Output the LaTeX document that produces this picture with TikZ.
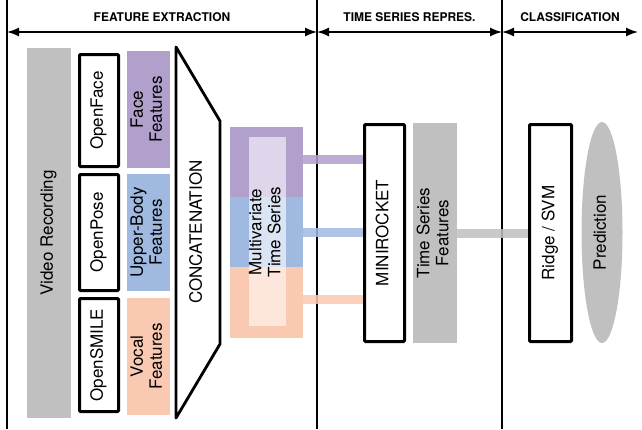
\documentclass[tikz,border=0pt]{standalone}
\usepackage{fontspec}
\setmainfont{TeX Gyre Heros}
\usetikzlibrary{arrows.meta, shapes.geometric, calc}
\definecolor{facecol}{HTML}{B19FCC}
\definecolor{bodycol}{HTML}{A0B9E1}
\definecolor{vocalcol}{HTML}{FAC9B2}
\definecolor{facelt}{HTML}{DFD6EB}
\definecolor{bodylt}{HTML}{DAE4F3}
\definecolor{vocallt}{HTML}{FDE6DC}
\definecolor{graycol}{HTML}{C0C0C0}
\newcommand{\bigfont}{\fontsize{17}{19}\selectfont}
\newcommand{\vtext}[1]{\rotatebox{90}{\begin{tabular}{@{}c@{}}#1\end{tabular}}}
\tikzset{
  stage/.style={line width=2.8pt},
  span/.style={line width=1.5pt, {Latex[length=12pt,width=9pt]}-{Latex[length=12pt,width=9pt]}},
  hdr/.style={above=10pt, inner sep=0pt, font=\bfseries\fontsize{12}{14}\selectfont},
  toolbox/.style={draw, line width=3pt, rounded corners=1pt, fill=white, inner sep=0pt, font=\bigfont},
  featbox/.style={fill=#1, inner sep=0pt, font=\bigfont},
  band/.style={line width=9pt, draw=#1, opacity=0.85}
}
\begin{document}
\begin{tikzpicture}[x=1pt, y=-1pt]
  \useasboundingbox (0,0) rectangle (642,429);

  % stage borders and spans
  \coordinate (s0) at (7,0);
  \coordinate (s1) at (317,0);
  \coordinate (s2) at (502,0);
  \coordinate (s3) at (638,0);
  \foreach \s in {s0,s1,s2}
    \draw[stage] (\s) -- ++(0,429);
  \draw[span] ($(s0)+(0,32)$) -- ($(s1)+(0,32)$) node[hdr, midway] (hdrfeat) {FEATURE EXTRACTION};
  \draw[span] ($(s1)+(0,32)$) -- ($(s2)+(0,32)$) node[hdr, midway] (hdrtime) {TIME SERIES REPRES.};
  \draw[span] ($(s2)+(0,32)$) -- ($(s3)+(0,32)$) node[hdr, midway] (hdrclass) {CLASSIFICATION};

  % feature extraction
  \node[featbox=graycol, minimum width=44pt, minimum height=370pt] (video) at (49,233) {\vtext{Video Recording}};
  \node[toolbox, minimum width=39pt, minimum height=112pt] (openface) at (99,110.5) {\vtext{OpenFace}};
  \node[toolbox, minimum width=39pt, minimum height=116pt] (openpose) at (99,232.5) {\vtext{OpenPose}};
  \node[toolbox, minimum width=39pt, minimum height=113pt] (opensmile) at (99,355) {\vtext{OpenSMILE}};
  \node[featbox=facecol, minimum width=43pt, minimum height=117pt] (facefeat) at (148.5,109.5) {\vtext{Face\\Features}};
  \node[featbox=bodycol, minimum width=43pt, minimum height=117pt] (bodyfeat) at (148.5,232.5) {\vtext{Upper-Body\\Features}};
  \node[featbox=vocalcol, minimum width=43pt, minimum height=117pt] (vocalfeat) at (148.5,356.5) {\vtext{Vocal\\Features}};

  \draw[line width=2.8pt, line join=round] (176,47) -- (220,121) -- (220,344) -- (176,418) -- cycle;
  \node[font=\bigfont] (concat) at (198,232) {\vtext{CONCATENATION}};

  % multivariate time series
  \node[featbox=facecol, minimum width=73pt, minimum height=70pt] (mtsface) at (266.5,162) {};
  \node[featbox=bodycol, minimum width=73pt, minimum height=70pt] (mtsbody) at (266.5,232) {};
  \node[featbox=vocalcol, minimum width=73pt, minimum height=71pt] (mtsvocal) at (266.5,302.5) {};
  \node[featbox=facelt, minimum width=37pt, minimum height=60pt] (mtsfacelt) at (267.5,167) {};
  \node[featbox=bodylt, minimum width=37pt, minimum height=70pt] (mtsbodylt) at (267.5,232) {};
  \node[featbox=vocallt, minimum width=37pt, minimum height=59pt] (mtsvocallt) at (267.5,296.5) {};
  \node[font=\bigfont] (mtstext) at (267,232) {\vtext{Multivariate\\Time Series}};

  % time series representation
  \node[toolbox, minimum width=40pt, minimum height=217pt] (minirocket) at (384.5,233) {\vtext{MINIROCKET}};
  \node[featbox=graycol, minimum width=44pt, minimum height=220pt] (tsfeat) at (435,233) {\vtext{Time Series\\Features}};

  % classification
  \node[toolbox, minimum width=42pt, minimum height=217pt] (ridge) at (550.5,233) {\vtext{Ridge / SVM}};
  \node[ellipse, fill=graycol, inner sep=0pt, minimum width=41pt, minimum height=221pt, font=\bigfont] (predict) at (602,232.5) {\vtext{Prediction}};

  % connectors
  \draw[band=facecol] ([yshift=3pt]mtsface.east) -- ([yshift=3pt]minirocket.west |- mtsface.east);
  \draw[band=bodycol] (mtsbody.east) -- (mtsbody.east -| minirocket.west);
  \draw[band=vocalcol] ([yshift=3pt]mtsvocal.east) -- ([yshift=3pt]minirocket.west |- mtsvocal.east);
  \draw[band=graycol] (tsfeat.east) -- (ridge.west);
\end{tikzpicture}
\end{document}
